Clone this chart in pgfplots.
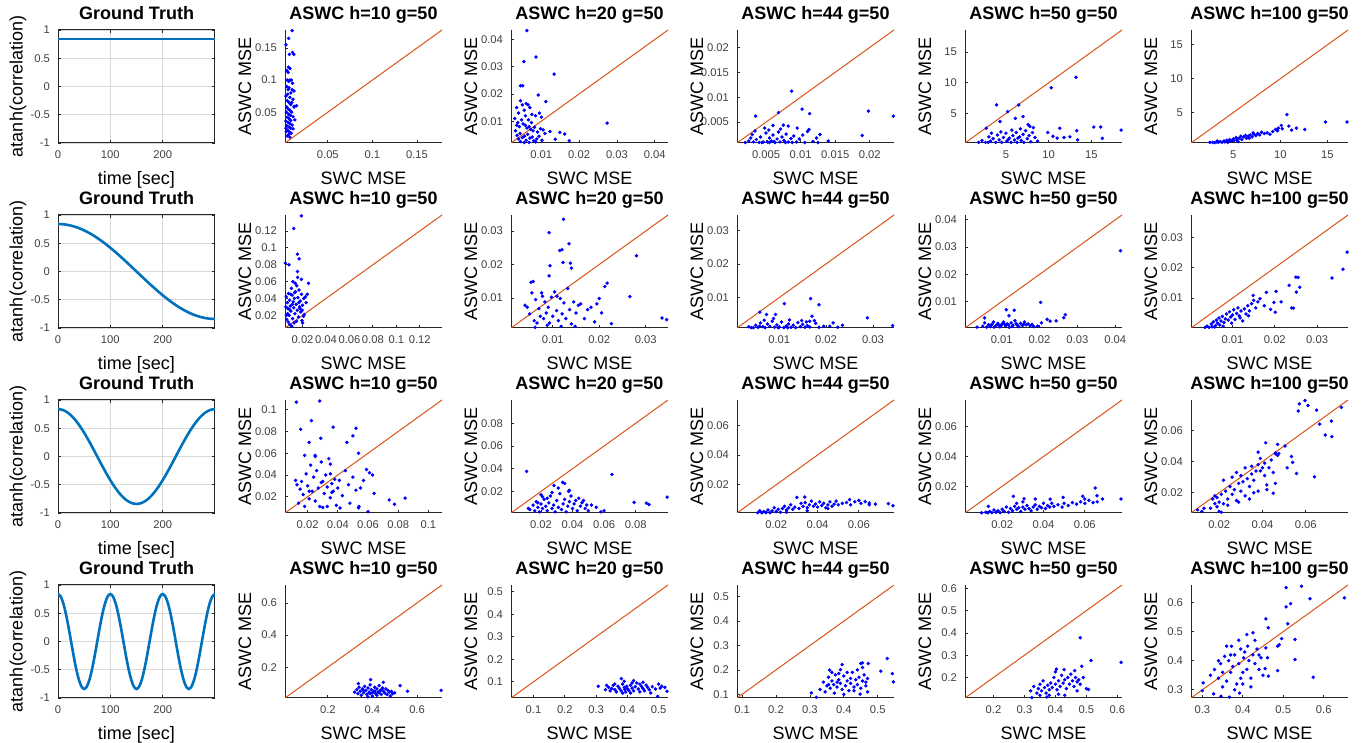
\documentclass[border=0pt]{standalone}
\usepackage{fontspec}
\setmainfont{Liberation Sans}
\usepackage{pgfplots}
\pgfplotsset{compat=1.18}
\definecolor{mlblue}{rgb}{0,0.447,0.741}
\definecolor{mlorange}{rgb}{0.85,0.325,0.098}
\definecolor{axgray}{rgb}{0.15,0.15,0.15}
\definecolor{tickgray}{rgb}{0.25,0.25,0.25}
\pgfplotsset{
  panel/.style={scale only axis, width=78.5pt, height=56.5pt, anchor=south west,
    tick align=inside, major tick length=1.5pt,
    every tick/.style={axgray, line width=0.4pt},
    axis line style={axgray, line width=0.5pt},
    scaled ticks=false,
    /pgf/number format/assume math mode=true,
    /pgf/number format/fixed, /pgf/number format/precision=3,
    ticklabel style={font=\fontsize{5.6}{6.5}\selectfont, text=tickgray},
    xticklabel style={yshift=-0.5pt}, yticklabel style={xshift=-0.5pt},
    label style={font=\fontsize{9}{10}\selectfont, text=black},
    xlabel style={at={(axis description cs:0.5,-0.37)}, anchor=base},
    ylabel style={at={(axis description cs:-0.255,0.5)}, anchor=center},
    every axis title shift=0pt,
    title style={font=\bfseries\fontsize{9}{10}\selectfont, at={(axis description cs:0.5,1.09)}, anchor=base}},
  gt/.style={panel, xmin=0, xmax=300, ymin=-1, ymax=1, xtick={0,100,200},
    ytick={-1,-0.5,0,0.5,1}, grid=major, grid style={black!15, line width=0.3pt},
    xlabel={time [sec]}, ylabel={atanh(correlation)}, title={Ground Truth}},
  sc/.style={panel, axis x line*=bottom, axis y line*=left,
    every outer x axis line/.append style={-}, every outer y axis line/.append style={-},
    xlabel={SWC MSE}, ylabel={ASWC MSE}},
  pts/.style={only marks, mark=*, mark size=0.65pt, color=blue},
  diag/.style={mlorange, line width=0.5pt, no marks},
  truth/.style={mlblue, line width=1.3pt, no marks, smooth},
}
\begin{document}
\begin{tikzpicture}
\useasboundingbox (0,0) rectangle (682pt,371.5pt);
% ---------------- row 1 ----------------
\begin{axis}[gt, at={(29pt,300pt)}]
\addplot[truth] coordinates {(0,0.84)(300,0.84)};
\end{axis}
\begin{axis}[sc, at={(142.5pt,300pt)}, xmin=0.002, xmax=0.178, ymin=0.002, ymax=0.178,
  xtick={0.05,0.1,0.15}, ytick={0.05,0.1,0.15}, title={ASWC h=10 g=50}]
\addplot[diag] coordinates {(0.002,0.002)(0.178,0.178)};
\addplot[pts] coordinates {(0.010,0.177)(0.003,0.155)(0.006,0.165)(0.007,0.14)(0.0105,0.143)(0.012,0.14)
(0.006,0.12)(0.0055,0.112)(0.0045,0.10)(0.006,0.098)(0.0075,0.1)(0.009,0.1)(0.004,0.09)(0.0065,0.088)
(0.01,0.085)(0.012,0.083)(0.0085,0.08)(0.005,0.078)(0.003,0.075)(0.0075,0.073)(0.011,0.07)(0.0045,0.068)
(0.0065,0.065)(0.0085,0.062)(0.015,0.06)(0.0125,0.059)(0.004,0.058)(0.0055,0.055)(0.0075,0.053)(0.0095,0.05)
(0.0035,0.05)(0.006,0.047)(0.008,0.045)(0.011,0.043)(0.0045,0.042)(0.0065,0.04)(0.013,0.038)(0.0085,0.037)
(0.003,0.036)(0.0055,0.034)(0.0075,0.032)(0.01,0.03)(0.004,0.029)(0.0065,0.027)(0.0085,0.025)(0.011,0.024)
(0.005,0.022)(0.0035,0.02)(0.007,0.019)(0.009,0.017)(0.006,0.015)(0.0045,0.013)(0.0075,0.011)(0.003,0.025)
(0.0095,0.065)(0.0055,0.085)(0.0105,0.095)(0.004,0.115)(0.0075,0.118)(0.012,0.058)};
\end{axis}
\begin{axis}[sc, at={(255.5pt,300pt)}, xmin=0.002, xmax=0.0435, ymin=0.002, ymax=0.0435,
  xtick={0.01,0.02,0.03,0.04}, ytick={0.01,0.02,0.03,0.04}, title={ASWC h=20 g=50}]
\addplot[diag] coordinates {(0.002,0.002)(0.0435,0.0435)};
\addplot[pts] coordinates {(0.0062,0.0433)(0.0054,0.0319)(0.0086,0.0336)(0.0134,0.0273)(0.0092,0.0196)
(0.0045,0.023)(0.0051,0.023)(0.0112,0.0172)(0.0274,0.0093)(0.0149,0.0059)(0.0162,0.0053)(0.0174,0.0028)
(0.0137,0.0034)(0.0035,0.015)(0.004,0.013)(0.0045,0.0175)(0.005,0.016)(0.0055,0.014)(0.006,0.0165)
(0.0065,0.016)(0.007,0.015)(0.0075,0.0125)(0.0085,0.012)(0.0095,0.013)(0.01,0.0115)(0.003,0.011)
(0.0038,0.0095)(0.0042,0.008)(0.0048,0.0105)(0.0052,0.009)(0.0058,0.0085)(0.0062,0.0075)(0.0068,0.008)
(0.0072,0.007)(0.0078,0.0065)(0.0082,0.0078)(0.009,0.006)(0.0098,0.0072)(0.0105,0.0068)(0.011,0.0055)
(0.0032,0.0065)(0.0036,0.0048)(0.0044,0.0055)(0.005,0.004)(0.0056,0.0045)(0.006,0.003)(0.0064,0.0052)
(0.007,0.0038)(0.0076,0.0042)(0.008,0.0028)(0.0088,0.0035)(0.0094,0.0045)(0.0102,0.003)(0.0045,0.0025)
(0.0055,0.0022)(0.0068,0.0022)(0.0085,0.0024)(0.004,0.0035)(0.0058,0.012)(0.0066,0.0105)(0.0074,0.0095)
(0.0035,0.0085)(0.0123,0.0062)};
\end{axis}
\begin{axis}[sc, at={(368.5pt,300pt)}, xmin=0.0008, xmax=0.0235, ymin=0.0008, ymax=0.0235,
  xtick={0.005,0.01,0.015,0.02}, ytick={0.005,0.01,0.015,0.02}, title={ASWC h=44 g=50}]
\addplot[diag] coordinates {(0.0008,0.0008)(0.0235,0.0235)};
\addplot[pts] coordinates {(0.0234,0.0062)(0.0198,0.0072)(0.0189,0.0023)(0.0087,0.0112)(0.0102,0.0076)
(0.0113,0.0067)(0.0035,0.0062)(0.0068,0.0069)(0.0140,0.0012)(0.0128,0.0025)(0.0123,0.0018)(0.0110,0.0031)
(0.0112,0.0035)(0.0095,0.0038)(0.0082,0.0042)(0.0075,0.0044)(0.006,0.0043)(0.0048,0.0038)
(0.002,0.0009)(0.0025,0.0012)(0.003,0.0025)(0.0032,0.0010)(0.0036,0.0015)(0.004,0.0009)(0.0042,0.002)
(0.0046,0.001)(0.005,0.0028)(0.0052,0.0010)(0.0055,0.0018)(0.0058,0.0012)(0.006,0.0024)(0.0063,0.0009)
(0.0066,0.0016)(0.0068,0.003)(0.007,0.0010)(0.0073,0.002)(0.0076,0.0013)(0.0079,0.0026)(0.0082,0.0010)
(0.0086,0.0017)(0.009,0.0022)(0.0094,0.001)(0.0098,0.0016)(0.0103,0.0024)(0.0106,0.0009)(0.0028,0.0018)
(0.0034,0.0032)(0.0044,0.0009)(0.0054,0.0034)(0.0062,0.0011)(0.0071,0.0036)(0.0088,0.0009)(0.0118,0.0011)
(0.0125,0.0009)(0.0055,0.0009)(0.0078,0.0009)};
\end{axis}
\begin{axis}[sc, at={(482.5pt,300pt)}, xmin=0.2, xmax=18.6, ymin=0.2, ymax=18.6,
  xtick={5,10,15}, ytick={5,10,15}, title={ASWC h=50 g=50}]
\node[font=\fontsize{5}{6}\selectfont, text=tickgray, anchor=south west, inner sep=0pt] at (axis description cs:0,1.005) {×10\textsuperscript{-3}};
\node[font=\fontsize{5}{6}\selectfont, text=tickgray, anchor=west, inner sep=0pt] at (axis description cs:0.78,-0.31) {×10\textsuperscript{-3}};
\addplot[diag] coordinates {(0.2,0.2)(18.6,18.6)};
\addplot[pts] coordinates {(18.5,2.3)(16.1,2.8)(15.3,2.8)(16.3,0.96)(13.2,10.9)(10.3,9.2)(3.9,6.4)(5.2,5.3)
(6.5,6.4)(6.1,4.2)(7.0,4.5)(4.3,3.7)(2.7,2.6)(11.3,2.6)(13.3,2.2)(9.9,1.9)(8.2,2.7)(7.6,3.2)(11.8,1.1)
(13.4,0.7)(12.5,1.2)(10.5,1.3)(11.0,1.0)(1.8,0.3)(2.2,0.6)(2.6,0.3)(3.0,1.2)(3.2,0.5)(3.5,0.9)(3.8,0.3)
(4.0,1.5)(4.2,0.7)(4.5,0.3)(4.7,1.1)(5.0,1.8)(5.1,0.5)(5.4,1.0)(5.6,0.3)(5.8,1.4)(6.0,0.7)(6.2,1.9)
(6.3,0.3)(6.6,1.2)(6.8,0.6)(7.0,1.6)(7.1,0.3)(7.3,2.2)(7.5,0.9)(7.7,1.4)(7.9,0.4)(8.1,1.9)(8.4,1.1)
(8.7,0.5)(3.3,1.8)(4.4,2.0)(5.7,2.3)(6.7,2.5)(7.8,2.9)(2.9,0.3)(6.4,1.0)(5.3,0.8)};
\end{axis}
\begin{axis}[sc, at={(595.5pt,300pt)}, xmin=0.5, xmax=17.2, ymin=0.5, ymax=17.2,
  xtick={5,10,15}, ytick={5,10,15}, title={ASWC h=100 g=50}]
\node[font=\fontsize{5}{6}\selectfont, text=tickgray, anchor=south west, inner sep=0pt] at (axis description cs:0,1.005) {×10\textsuperscript{-3}};
\node[font=\fontsize{5}{6}\selectfont, text=tickgray, anchor=west, inner sep=0pt] at (axis description cs:0.77,-0.31) {×10\textsuperscript{-3}};
\addplot[diag] coordinates {(0.5,0.5)(17.2,17.2)};
\addplot[pts] coordinates {(17.1,3.6)(14.8,3.6)(10.7,4.7)(12.6,2.5)(11.7,2.7)(10.9,3.0)(10.1,3.1)(10.2,2.6)
(9.8,2.7)(11.2,2.4)(2.5,0.6)(2.8,0.6)(3.0,0.55)(3.2,0.65)(3.4,0.6)(3.6,0.7)(3.8,0.6)(4.0,0.8)(4.1,0.65)
(4.3,0.9)(4.5,0.7)(4.6,1.0)(4.8,0.8)(5.0,1.1)(5.1,0.9)(5.3,1.3)(5.4,0.9)(5.6,1.2)(5.8,1.5)(5.9,1.0)
(6.1,1.4)(6.3,1.6)(6.4,1.2)(6.6,1.5)(6.8,1.7)(7.0,1.4)(7.2,1.8)(7.4,1.6)(7.6,1.9)(7.8,1.7)(8.0,2.1)
(8.3,1.9)(8.6,2.0)(8.9,1.8)(9.2,2.2)(9.5,2.5)(9.7,2.3)(4.4,0.6)(5.5,0.7)(6.7,1.2)(7.1,2.0)(3.3,0.8)};
\end{axis}
% ---------------- row 2 ----------------
\begin{axis}[gt, at={(29pt,207.5pt)}]
\addplot[truth] coordinates {(0,0.84)(10,0.8354)(20,0.8216)(30,0.7989)(40,0.7674)(50,0.7275)(60,0.6796)
(70,0.6242)(80,0.5621)(90,0.4937)(100,0.42)(110,0.3417)(120,0.2596)(130,0.1747)(140,0.0878)(150,0)
(160,-0.0878)(170,-0.1747)(180,-0.2596)(190,-0.3417)(200,-0.42)(210,-0.4937)(220,-0.5621)(230,-0.6242)
(240,-0.6796)(250,-0.7275)(260,-0.7674)(270,-0.7989)(280,-0.8216)(290,-0.8354)(300,-0.84)};
\end{axis}
\begin{axis}[sc, at={(142.5pt,207.5pt)}, xmin=0.005, xmax=0.139, ymin=0.005, ymax=0.139,
  xtick={0.02,0.04,0.06,0.08,0.1,0.12}, ytick={0.02,0.04,0.06,0.08,0.1,0.12}, title={ASWC h=10 g=50}]
\addplot[diag] coordinates {(0.005,0.005)(0.139,0.139)};
\addplot[pts] coordinates {(0.019,0.138)(0.0124,0.123)(0.0156,0.0925)(0.017,0.087)(0.0053,0.082)(0.0084,0.080)
(0.0156,0.072)(0.019,0.0626)(0.025,0.058)(0.0224,0.042)(0.020,0.011)(0.024,0.045)(0.023,0.035)
(0.006,0.042)(0.007,0.035)(0.0075,0.028)(0.008,0.046)(0.0085,0.02)(0.009,0.038)(0.0095,0.031)(0.01,0.025)
(0.0105,0.052)(0.011,0.044)(0.0115,0.016)(0.012,0.036)(0.0125,0.029)(0.013,0.04)(0.0135,0.022)(0.014,0.048)
(0.0145,0.033)(0.015,0.055)(0.0155,0.026)(0.016,0.041)(0.0165,0.018)(0.017,0.05)(0.0175,0.03)(0.018,0.037)
(0.0185,0.024)(0.019,0.045)(0.0195,0.014)(0.02,0.032)(0.021,0.04)(0.0215,0.021)(0.0065,0.015)(0.0078,0.012)
(0.0092,0.009)(0.0108,0.007)(0.0128,0.011)(0.0148,0.013)(0.0168,0.035)(0.0138,0.058)(0.0118,0.06)
(0.0098,0.045)(0.0088,0.027)(0.0072,0.022)(0.0058,0.03)(0.0062,0.02)(0.0158,0.065)(0.0178,0.028)
(0.0198,0.026)(0.0208,0.019)(0.0112,0.033)(0.0132,0.047)};
\end{axis}
\begin{axis}[sc, at={(255.5pt,207.5pt)}, xmin=0.001, xmax=0.0348, ymin=0.001, ymax=0.0348,
  xtick={0.01,0.02,0.03}, ytick={0.01,0.02,0.03}, title={ASWC h=20 g=50}]
\addplot[diag] coordinates {(0.001,0.001)(0.0348,0.0348)};
\addplot[pts] coordinates {(0.0123,0.0335)(0.0092,0.0295)(0.0135,0.0262)(0.0115,0.0242)(0.012,0.0244)
(0.0122,0.0206)(0.0138,0.0204)(0.014,0.0189)(0.0094,0.0196)(0.028,0.0226)(0.0212,0.0134)(0.0217,0.0144)
(0.0266,0.0104)(0.0335,0.004)(0.0345,0.0035)(0.0058,0.0149)(0.0053,0.0147)(0.0092,0.0166)(0.0226,0.0023)
(0.004,0.0078)(0.0045,0.0072)(0.005,0.0052)(0.0055,0.0115)(0.006,0.0032)(0.0063,0.0095)(0.0066,0.0025)
(0.007,0.0068)(0.0073,0.0045)(0.0076,0.0115)(0.008,0.0038)(0.0083,0.0088)(0.0086,0.0055)(0.009,0.0072)
(0.0093,0.0025)(0.0097,0.0102)(0.01,0.0045)(0.0104,0.0118)(0.0108,0.0062)(0.0112,0.0032)(0.0116,0.0098)
(0.012,0.0052)(0.0124,0.0085)(0.0128,0.0038)(0.0132,0.0128)(0.0136,0.0065)(0.014,0.0022)(0.0145,0.0088)
(0.015,0.0055)(0.0155,0.0078)(0.016,0.0082)(0.0168,0.0038)(0.0175,0.0065)(0.0182,0.0072)(0.019,0.0028)
(0.0195,0.0082)(0.02,0.0098)(0.0205,0.0055)(0.0062,0.0012)(0.0088,0.0018)(0.0118,0.0015)(0.0148,0.0015)
(0.0078,0.0105)(0.0109,0.0105)};
\end{axis}
\begin{axis}[sc, at={(368.5pt,207.5pt)}, xmin=0.001, xmax=0.0345, ymin=0.001, ymax=0.0345,
  xtick={0.01,0.02,0.03}, ytick={0.01,0.02,0.03}, title={ASWC h=44 g=50}]
\addplot[diag] coordinates {(0.001,0.001)(0.0345,0.0345)};
\addplot[pts] coordinates {(0.0167,0.0097)(0.0185,0.0079)(0.0111,0.0082)(0.0059,0.0057)(0.0073,0.005)
(0.0092,0.005)(0.0288,0.004)(0.0342,0.0017)(0.0215,0.0025)(0.0235,0.0018)(0.0225,0.0012)(0.0208,0.0015)
(0.017,0.0045)(0.0165,0.003)(0.0175,0.0032)(0.0035,0.0014)(0.004,0.0011)(0.0045,0.0011)(0.005,0.0018)
(0.0055,0.0012)(0.006,0.0025)(0.0065,0.0014)(0.007,0.0011)(0.0075,0.0022)(0.008,0.0015)(0.0085,0.003)
(0.009,0.0012)(0.0095,0.0019)(0.01,0.0013)(0.0105,0.0028)(0.011,0.0011)(0.0115,0.0016)(0.012,0.0022)
(0.0125,0.0012)(0.013,0.0018)(0.0135,0.0011)(0.014,0.0026)(0.0145,0.0014)(0.015,0.0021)(0.0155,0.0012)
(0.016,0.0017)(0.0165,0.0013)(0.0178,0.0024)(0.0185,0.0012)(0.0195,0.0015)(0.0068,0.0033)(0.0088,0.0038)
(0.0122,0.0034)(0.0148,0.0032)(0.0058,0.0015)(0.0098,0.0011)(0.0118,0.0011)(0.0158,0.0028)};
\end{axis}
\begin{axis}[sc, at={(482.5pt,207.5pt)}, xmin=0.0003, xmax=0.0418, ymin=0.0003, ymax=0.0418,
  xtick={0.01,0.02,0.03,0.04}, ytick={0.01,0.02,0.03,0.04}, title={ASWC h=50 g=50}]
\addplot[diag] coordinates {(0.0003,0.0003)(0.0418,0.0418)};
\addplot[pts] coordinates {(0.0414,0.0287)(0.0203,0.0097)(0.0268,0.0052)(0.0264,0.0041)(0.0244,0.0029)
(0.022,0.0035)(0.0112,0.007)(0.0133,0.0068)(0.0119,0.0048)(0.0055,0.004)(0.0035,0.0006)(0.0228,0.0028)
(0.0195,0.0010)(0.0205,0.0022)(0.005,0.001)(0.0055,0.0022)(0.006,0.0006)(0.0065,0.0015)(0.007,0.0008)
(0.0075,0.0018)(0.008,0.0006)(0.0085,0.0012)(0.009,0.002)(0.0095,0.0007)(0.01,0.0015)(0.0105,0.0025)
(0.011,0.001)(0.0115,0.0018)(0.012,0.0006)(0.0125,0.0022)(0.013,0.0013)(0.0135,0.003)(0.014,0.0016)
(0.0145,0.0008)(0.015,0.002)(0.0155,0.0012)(0.016,0.0025)(0.0165,0.0015)(0.017,0.0018)(0.0175,0.0011)
(0.018,0.0016)(0.0185,0.0008)(0.0068,0.0012)(0.0078,0.0025)(0.0088,0.0016)(0.0098,0.0011)(0.0108,0.0017)
(0.0118,0.0014)(0.0128,0.0009)(0.0138,0.0019)(0.0158,0.0016)(0.0072,0.0014)(0.0092,0.0013)(0.0102,0.0019)
(0.0142,0.0012)};
\end{axis}
\begin{axis}[sc, at={(595.5pt,207.5pt)}, xmin=0.0002, xmax=0.0373, ymin=0.0002, ymax=0.0373,
  xtick={0.01,0.02,0.03}, ytick={0.01,0.02,0.03}, title={ASWC h=100 g=50}]
\addplot[diag] coordinates {(0.0002,0.0002)(0.0373,0.0373)};
\addplot[pts] coordinates {(0.0371,0.0251)(0.0361,0.0195)(0.0335,0.0166)(0.025,0.0169)(0.0255,0.0168)
(0.0259,0.0136)(0.0251,0.012)(0.0234,0.0142)(0.024,0.0068)(0.0244,0.0067)(0.0203,0.0122)(0.018,0.0119)
(0.0198,0.0086)(0.0201,0.0054)(0.015,0.0093)(0.0149,0.0109)(0.0215,0.0088)(0.019,0.0063)(0.0175,0.0075)
(0.0165,0.0098)(0.0035,0.0004)(0.004,0.0008)(0.0045,0.0004)(0.005,0.0015)(0.0052,0.0006)(0.0055,0.0022)
(0.006,0.001)(0.0062,0.0028)(0.0065,0.0018)(0.0068,0.0035)(0.007,0.0012)(0.0073,0.0025)(0.0076,0.004)
(0.008,0.002)(0.0083,0.0032)(0.0086,0.0048)(0.009,0.0028)(0.0093,0.0055)(0.0096,0.0038)(0.01,0.0045)
(0.0103,0.0062)(0.0106,0.003)(0.011,0.005)(0.0113,0.0068)(0.0116,0.0042)(0.012,0.0058)(0.0124,0.0025)
(0.0128,0.0065)(0.0132,0.0048)(0.0136,0.0075)(0.014,0.0058)(0.0145,0.0082)(0.0155,0.0068)(0.016,0.0088)
(0.0058,0.0005)(0.0078,0.0008)(0.0098,0.0018)(0.0118,0.0035)(0.0138,0.0042)};
\end{axis}
% ---------------- row 3 ----------------
\begin{axis}[gt, at={(29pt,115pt)}]
\addplot[truth] coordinates {(0,0.84)(10,0.8216)(20,0.7674)(30,0.6796)(40,0.5621)(50,0.42)(60,0.2596)
(70,0.0878)(80,-0.0878)(90,-0.2596)(100,-0.42)(110,-0.5621)(120,-0.6796)(130,-0.7674)(140,-0.8216)
(150,-0.84)(160,-0.8216)(170,-0.7674)(180,-0.6796)(190,-0.5621)(200,-0.42)(210,-0.2596)(220,-0.0878)
(230,0.0878)(240,0.2596)(250,0.42)(260,0.5621)(270,0.6796)(280,0.7674)(290,0.8216)(300,0.84)};
\end{axis}
\begin{axis}[sc, at={(142.5pt,115pt)}, xmin=0.005, xmax=0.109, ymin=0.005, ymax=0.109,
  xtick={0.02,0.04,0.06,0.08,0.1}, ytick={0.02,0.04,0.06,0.08,0.1}, title={ASWC h=10 g=50}]
\addplot[diag] coordinates {(0.005,0.005)(0.109,0.109)};
\addplot[pts] coordinates {(0.0125,0.107)(0.028,0.108)(0.0225,0.090)(0.0154,0.082)(0.0369,0.084)(0.0287,0.0738)
(0.052,0.083)(0.050,0.076)(0.046,0.070)(0.0537,0.060)(0.059,0.045)(0.061,0.042)(0.064,0.023)(0.074,0.017)
(0.0775,0.013)(0.0846,0.0187)(0.060,0.0062)(0.0537,0.0097)(0.054,0.011)(0.0414,0.0096)(0.021,0.07)
(0.018,0.058)(0.025,0.058)(0.057,0.035)(0.055,0.028)(0.063,0.04)(0.012,0.035)(0.013,0.031)(0.014,0.014)
(0.015,0.027)(0.016,0.034)(0.017,0.022)(0.018,0.011)(0.019,0.041)(0.02,0.03)(0.021,0.018)(0.022,0.049)
(0.023,0.025)(0.024,0.038)(0.025,0.016)(0.026,0.044)(0.027,0.028)(0.028,0.011)(0.029,0.052)(0.03,0.034)
(0.031,0.023)(0.032,0.04)(0.033,0.029)(0.034,0.055)(0.035,0.019)(0.036,0.032)(0.037,0.025)(0.038,0.036)
(0.039,0.012)(0.04,0.028)(0.041,0.035)(0.043,0.021)(0.045,0.044)(0.047,0.031)(0.048,0.014)(0.05,0.038)
(0.052,0.026)(0.033,0.011)(0.029,0.033)(0.035,0.041)(0.036,0.024)(0.021,0.025)(0.03,0.01)(0.035,0.05)
(0.025,0.057)};
\end{axis}
\begin{axis}[sc, at={(255.5pt,115pt)}, xmin=0.001, xmax=0.1005, ymin=0.001, ymax=0.1005,
  xtick={0.02,0.04,0.06,0.08}, ytick={0.02,0.04,0.06,0.08}, title={ASWC h=20 g=50}]
\addplot[diag] coordinates {(0.001,0.001)(0.1005,0.1005)};
\addplot[pts] coordinates {(0.0109,0.0376)(0.065,0.035)(0.1,0.015)(0.079,0.0104)(0.0868,0.0096)(0.0885,0.0085)
(0.0337,0.028)(0.035,0.027)(0.0282,0.0252)(0.031,0.023)(0.038,0.021)(0.021,0.0153)(0.0375,0.02)(0.06,0.003)
(0.055,0.006)(0.052,0.008)(0.058,0.002)(0.012,0.005)(0.013,0.004)(0.015,0.008)(0.016,0.003)(0.017,0.011)
(0.018,0.006)(0.019,0.002)(0.02,0.009)(0.021,0.005)(0.022,0.013)(0.023,0.007)(0.024,0.003)(0.025,0.01)
(0.026,0.016)(0.027,0.005)(0.028,0.008)(0.029,0.002)(0.03,0.012)(0.031,0.006)(0.032,0.018)(0.033,0.004)
(0.034,0.009)(0.035,0.013)(0.036,0.002)(0.037,0.007)(0.038,0.011)(0.04,0.005)(0.041,0.009)(0.042,0.012)
(0.043,0.003)(0.045,0.007)(0.046,0.01)(0.048,0.005)(0.049,0.008)(0.05,0.003)(0.044,0.014)(0.039,0.016)
(0.027,0.019)(0.024,0.014)(0.02,0.017)(0.018,0.01)(0.047,0.012)};
\end{axis}
\begin{axis}[sc, at={(368.5pt,115pt)}, xmin=0.001, xmax=0.077, ymin=0.001, ymax=0.077,
  xtick={0.02,0.04,0.06}, ytick={0.02,0.04,0.06}, title={ASWC h=44 g=50}]
\addplot[diag] coordinates {(0.001,0.001)(0.077,0.077)};
\addplot[pts] coordinates {(0.0765,0.0059)(0.0743,0.0073)(0.065,0.0077)(0.063,0.0086)(0.060,0.0095)(0.0555,0.010)
(0.0338,0.0117)(0.030,0.0115)(0.011,0.0012)(0.012,0.0025)(0.013,0.0012)(0.014,0.002)(0.015,0.0015)
(0.016,0.003)(0.017,0.0012)(0.018,0.0025)(0.019,0.0045)(0.02,0.002)(0.021,0.0035)(0.022,0.0015)(0.023,0.004)
(0.024,0.0055)(0.025,0.003)(0.026,0.0045)(0.027,0.0065)(0.028,0.0035)(0.029,0.005)(0.031,0.004)
(0.032,0.0075)(0.033,0.0055)(0.034,0.008)(0.035,0.0045)(0.036,0.0065)(0.037,0.009)(0.038,0.0055)
(0.039,0.007)(0.04,0.005)(0.041,0.0085)(0.042,0.006)(0.043,0.0075)(0.044,0.0045)(0.045,0.0065)
(0.046,0.0085)(0.047,0.0055)(0.048,0.007)(0.049,0.009)(0.05,0.0065)(0.052,0.0075)(0.054,0.008)
(0.056,0.0065)(0.058,0.0085)(0.061,0.0075)(0.065,0.0065)(0.068,0.007)(0.015,0.0012)(0.025,0.0015)
(0.035,0.0025)(0.045,0.004)};
\end{axis}
\begin{axis}[sc, at={(482.5pt,115pt)}, xmin=0.002, xmax=0.078, ymin=0.002, ymax=0.078,
  xtick={0.02,0.04,0.06}, ytick={0.02,0.04,0.06}, title={ASWC h=50 g=50}]
\addplot[diag] coordinates {(0.002,0.002)(0.078,0.078)};
\addplot[pts] coordinates {(0.0775,0.0114)(0.0659,0.0136)(0.065,0.0188)(0.0686,0.0114)(0.059,0.0132)(0.060,0.0114)
(0.0495,0.0125)(0.0254,0.0132)(0.0306,0.0116)(0.036,0.0114)(0.0432,0.0114)(0.0133,0.0065)(0.01,0.0022)
(0.012,0.0025)(0.013,0.0022)(0.014,0.003)(0.015,0.0022)(0.016,0.004)(0.017,0.0025)(0.018,0.0035)
(0.019,0.0022)(0.02,0.0045)(0.021,0.003)(0.022,0.006)(0.023,0.0025)(0.024,0.005)(0.025,0.0035)
(0.026,0.0065)(0.027,0.0045)(0.028,0.0055)(0.029,0.003)(0.03,0.006)(0.031,0.0045)(0.032,0.007)
(0.033,0.005)(0.034,0.0035)(0.035,0.006)(0.036,0.0075)(0.037,0.0045)(0.038,0.0065)(0.039,0.0055)
(0.04,0.0085)(0.041,0.005)(0.042,0.007)(0.043,0.006)(0.044,0.0085)(0.045,0.0065)(0.047,0.0075)
(0.049,0.006)(0.05,0.0085)(0.052,0.007)(0.054,0.009)(0.056,0.008)(0.058,0.0095)(0.06,0.0085)
(0.062,0.0105)(0.064,0.009)(0.066,0.0095)(0.03,0.0095)(0.027,0.0085)};
\end{axis}
\begin{axis}[sc, at={(595.5pt,115pt)}, xmin=0.007, xmax=0.0795, ymin=0.007, ymax=0.0795,
  xtick={0.02,0.04,0.06}, ytick={0.02,0.04,0.06}, title={ASWC h=100 g=50}]
\addplot[diag] coordinates {(0.007,0.007)(0.0795,0.0795)};
\addplot[pts] coordinates {(0.0596,0.0792)(0.057,0.077)(0.061,0.076)(0.0565,0.0724)(0.065,0.073)(0.0764,0.0748)
(0.0718,0.066)(0.0664,0.064)(0.069,0.057)(0.072,0.056)(0.064,0.0302)(0.0534,0.0432)(0.0539,0.0395)
(0.0557,0.0323)(0.0514,0.036)(0.0415,0.052)(0.047,0.051)(0.046,0.0455)(0.0475,0.0452)(0.0504,0.050)
(0.038,0.046)(0.045,0.0197)(0.046,0.026)(0.01,0.009)(0.012,0.008)(0.013,0.01)(0.017,0.016)(0.018,0.013)
(0.018,0.018)(0.019,0.011)(0.019,0.017)(0.02,0.008)(0.02,0.014)(0.021,0.0075)(0.021,0.019)(0.022,0.013)
(0.022,0.028)(0.023,0.021)(0.024,0.016)(0.025,0.024)(0.026,0.019)(0.026,0.03)(0.027,0.022)(0.028,0.033)
(0.028,0.015)(0.029,0.026)(0.03,0.021)(0.03,0.031)(0.031,0.027)(0.032,0.018)(0.032,0.036)(0.033,0.029)
(0.034,0.024)(0.035,0.032)(0.035,0.037)(0.036,0.028)(0.037,0.034)(0.038,0.038)(0.038,0.021)(0.039,0.042)
(0.039,0.034)(0.04,0.036)(0.041,0.031)(0.041,0.039)(0.042,0.025)(0.043,0.036)(0.044,0.041)(0.045,0.033)
(0.046,0.045)(0.047,0.044)(0.042,0.022)(0.034,0.016)(0.029,0.014)(0.024,0.012)(0.016,0.01)(0.036,0.02)};
\end{axis}
% ---------------- row 4 ----------------
\begin{axis}[gt, at={(29pt,22.5pt)}]
\addplot[truth] coordinates {(0,0.84)(5,0.7989)(10,0.6796)(15,0.4937)(20,0.2596)(25,0)(30,-0.2596)
(35,-0.4937)(40,-0.6796)(45,-0.7989)(50,-0.84)(55,-0.7989)(60,-0.6796)(65,-0.4937)(70,-0.2596)(75,0)
(80,0.2596)(85,0.4937)(90,0.6796)(95,0.7989)(100,0.84)(105,0.7989)(110,0.6796)(115,0.4937)(120,0.2596)
(125,0)(130,-0.2596)(135,-0.4937)(140,-0.6796)(145,-0.7989)(150,-0.84)(155,-0.7989)(160,-0.6796)
(165,-0.4937)(170,-0.2596)(175,0)(180,0.2596)(185,0.4937)(190,0.6796)(195,0.7989)(200,0.84)(205,0.7989)
(210,0.6796)(215,0.4937)(220,0.2596)(225,0)(230,-0.2596)(235,-0.4937)(240,-0.6796)(245,-0.7989)
(250,-0.84)(255,-0.7989)(260,-0.6796)(265,-0.4937)(270,-0.2596)(275,0)(280,0.2596)(285,0.4937)
(290,0.6796)(295,0.7989)(300,0.84)};
\end{axis}
\begin{axis}[sc, at={(142.5pt,22.5pt)}, xmin=0.008, xmax=0.712, ymin=0.008, ymax=0.712,
  xtick={0.2,0.4,0.6}, ytick={0.2,0.4,0.6}, title={ASWC h=10 g=50}]
\addplot[diag] coordinates {(0.008,0.008)(0.712,0.712)};
\addplot[pts] coordinates {(0.708,0.056)(0.557,0.05)(0.524,0.085)(0.392,0.122)(0.449,0.106)(0.337,0.098)(0.5,0.04)
(0.32,0.045)(0.33,0.06)(0.335,0.035)(0.34,0.075)(0.345,0.05)(0.35,0.025)(0.355,0.065)(0.36,0.04)(0.365,0.08)
(0.37,0.055)(0.375,0.03)(0.38,0.07)(0.385,0.045)(0.39,0.09)(0.395,0.06)(0.4,0.02)(0.405,0.05)(0.41,0.075)
(0.415,0.035)(0.42,0.065)(0.425,0.045)(0.43,0.085)(0.435,0.055)(0.44,0.03)(0.445,0.07)(0.45,0.05)
(0.455,0.04)(0.46,0.065)(0.465,0.03)(0.47,0.055)(0.475,0.045)(0.48,0.02)(0.485,0.05)(0.49,0.035)
(0.38,0.015)(0.4,0.04)(0.42,0.025)(0.36,0.055)(0.44,0.06)(0.41,0.05)(0.39,0.035)(0.43,0.04)};
\end{axis}
\begin{axis}[sc, at={(255.5pt,22.5pt)}, xmin=0.028, xmax=0.53, ymin=0.028, ymax=0.53,
  xtick={0.1,0.2,0.3,0.4,0.5}, ytick={0.1,0.2,0.3,0.4,0.5}, title={ASWC h=20 g=50}]
\addplot[diag] coordinates {(0.028,0.028)(0.53,0.53)};
\addplot[pts] coordinates {(0.527,0.058)(0.51,0.08)(0.497,0.035)(0.381,0.114)(0.39,0.102)(0.307,0.08)(0.334,0.084)
(0.45,0.098)(0.42,0.105)(0.52,0.075)(0.33,0.065)(0.34,0.075)(0.345,0.06)(0.35,0.07)(0.355,0.085)(0.36,0.065)
(0.365,0.055)(0.37,0.08)(0.375,0.07)(0.38,0.06)(0.385,0.09)(0.39,0.075)(0.392,0.065)(0.395,0.055)
(0.398,0.08)(0.4,0.07)(0.405,0.062)(0.41,0.085)(0.415,0.072)(0.42,0.06)(0.425,0.078)(0.43,0.095)
(0.435,0.068)(0.44,0.055)(0.445,0.08)(0.45,0.07)(0.455,0.06)(0.46,0.085)(0.465,0.075)(0.47,0.065)
(0.475,0.05)(0.48,0.078)(0.49,0.068)(0.5,0.09)(0.505,0.072)(0.385,0.05)(0.41,0.05)(0.36,0.09)
(0.415,0.095)(0.44,0.09)};
\end{axis}
\begin{axis}[sc, at={(368.5pt,22.5pt)}, xmin=0.085, xmax=0.548, ymin=0.085, ymax=0.548,
  xtick={0.1,0.2,0.3,0.4,0.5}, ytick={0.1,0.2,0.3,0.4,0.5}, title={ASWC h=44 g=50}]
\addplot[diag] coordinates {(0.085,0.085)(0.548,0.548)};
\addplot[pts] coordinates {(0.528,0.247)(0.543,0.185)(0.546,0.151)(0.509,0.195)(0.455,0.229)(0.45,0.226)
(0.472,0.226)(0.395,0.222)(0.358,0.199)(0.39,0.201)(0.304,0.106)(0.319,0.088)(0.448,0.101)(0.47,0.11)
(0.465,0.15)(0.33,0.12)(0.34,0.15)(0.345,0.11)(0.35,0.135)(0.355,0.17)(0.36,0.125)(0.365,0.155)(0.37,0.14)
(0.372,0.105)(0.375,0.18)(0.38,0.13)(0.385,0.16)(0.39,0.145)(0.395,0.12)(0.4,0.175)(0.405,0.135)
(0.41,0.155)(0.415,0.115)(0.42,0.145)(0.425,0.19)(0.43,0.13)(0.435,0.16)(0.44,0.14)(0.445,0.17)
(0.45,0.125)(0.455,0.155)(0.46,0.18)(0.465,0.135)(0.47,0.165)(0.365,0.19)(0.385,0.185)(0.41,0.19)
(0.4,0.1)(0.43,0.115)(0.355,0.14)(0.38,0.15)(0.42,0.165)(0.44,0.2)(0.455,0.21)};
\end{axis}
\begin{axis}[sc, at={(482.5pt,22.5pt)}, xmin=0.108, xmax=0.615, ymin=0.108, ymax=0.615,
  xtick={0.2,0.3,0.4,0.5,0.6}, ytick={0.2,0.3,0.4,0.5,0.6}, title={ASWC h=50 g=50}]
\addplot[diag] coordinates {(0.108,0.108)(0.615,0.615)};
\addplot[pts] coordinates {(0.612,0.268)(0.515,0.276)(0.48,0.378)(0.507,0.146)(0.5,0.15)(0.485,0.25)(0.462,0.231)
(0.428,0.235)(0.403,0.238)(0.324,0.11)(0.372,0.112)(0.32,0.14)(0.33,0.16)(0.34,0.13)(0.345,0.15)
(0.35,0.17)(0.355,0.14)(0.36,0.185)(0.365,0.155)(0.37,0.13)(0.375,0.165)(0.38,0.145)(0.385,0.175)
(0.39,0.155)(0.395,0.2)(0.4,0.17)(0.405,0.145)(0.41,0.185)(0.415,0.16)(0.42,0.21)(0.425,0.175)(0.43,0.19)
(0.435,0.15)(0.44,0.2)(0.445,0.17)(0.45,0.215)(0.455,0.185)(0.46,0.16)(0.465,0.2)(0.47,0.18)(0.475,0.19)
(0.48,0.17)(0.49,0.2)(0.41,0.125)(0.43,0.12)(0.38,0.12)(0.35,0.12)(0.4,0.225)(0.47,0.14)};
\end{axis}
\begin{axis}[sc, at={(595.5pt,22.5pt)}, xmin=0.272, xmax=0.66, ymin=0.272, ymax=0.66,
  xtick={0.3,0.4,0.5,0.6}, ytick={0.3,0.4,0.5,0.6}, title={ASWC h=100 g=50}]
\addplot[diag] coordinates {(0.272,0.272)(0.66,0.66)};
\addplot[pts] coordinates {(0.545,0.656)(0.507,0.651)(0.566,0.613)(0.651,0.616)(0.507,0.585)(0.518,0.596)
(0.511,0.527)(0.529,0.473)(0.529,0.404)(0.574,0.343)(0.457,0.544)(0.463,0.513)(0.496,0.476)(0.486,0.45)
(0.49,0.455)(0.457,0.444)(0.461,0.41)(0.455,0.373)(0.463,0.347)(0.486,0.366)(0.425,0.496)(0.328,0.286)
(0.346,0.278)(0.367,0.275)(0.392,0.289)(0.302,0.324)(0.3,0.297)(0.32,0.35)(0.33,0.37)(0.34,0.34)
(0.345,0.39)(0.35,0.36)(0.355,0.415)(0.36,0.33)(0.365,0.4)(0.37,0.36)(0.372,0.45)(0.375,0.38)(0.38,0.42)
(0.385,0.32)(0.39,0.39)(0.395,0.44)(0.4,0.36)(0.402,0.41)(0.405,0.43)(0.41,0.37)(0.412,0.45)(0.415,0.4)
(0.42,0.34)(0.425,0.42)(0.43,0.39)(0.435,0.44)(0.44,0.37)(0.445,0.41)(0.45,0.35)(0.36,0.45)(0.39,0.47)
(0.41,0.49)(0.38,0.3)(0.4,0.32)(0.42,0.31)(0.35,0.31)(0.44,0.42)(0.43,0.47)(0.37,0.42)(0.34,0.4)(0.395,0.34)};
\end{axis}
\end{tikzpicture}
\end{document}
